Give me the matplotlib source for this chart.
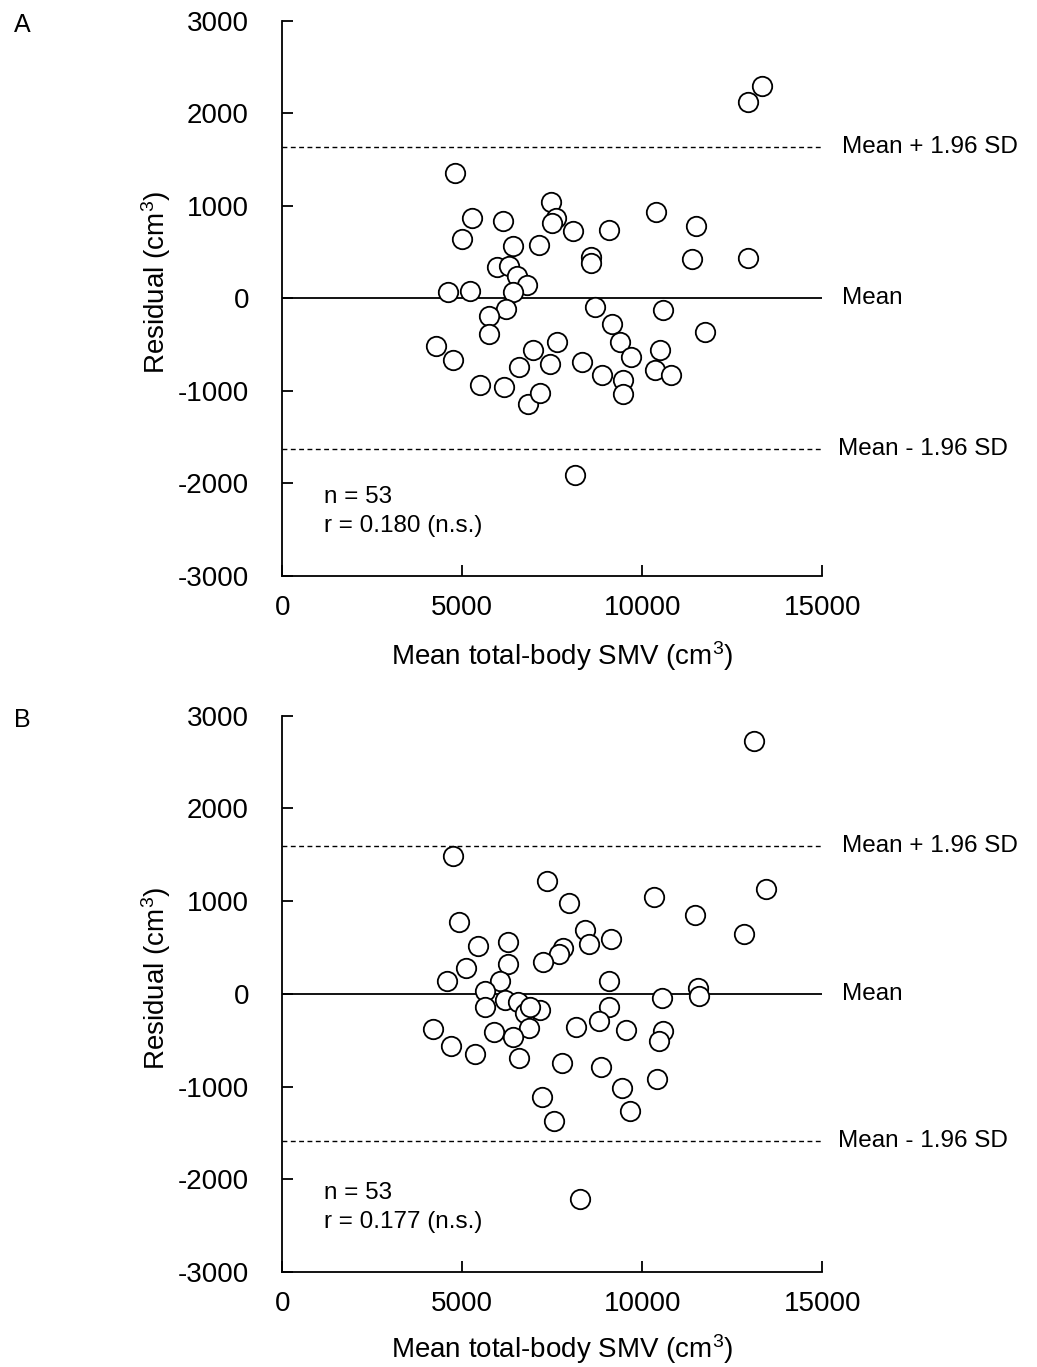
import matplotlib
matplotlib.use("Agg")
import matplotlib.pyplot as plt

plt.rcParams['font.family'] = ['Liberation Sans', 'DejaVu Sans']
plt.rcParams['mathtext.fontset'] = 'custom'
plt.rcParams['mathtext.rm'] = 'Liberation Sans'
plt.rcParams['mathtext.it'] = 'Liberation Sans:italic'
plt.rcParams['mathtext.bf'] = 'Liberation Sans:bold'
plt.rcParams['axes.unicode_minus'] = False

# Panel A data
a_x = [4797, 5278, 6139, 4983, 7464, 7594, 7483, 8083, 9067, 10381, 11483,
       6417, 7139, 8575, 8575, 11372, 12928, 5956, 6306, 6511, 6797, 4611,
       5214, 6400, 6214, 5750, 8694, 10575, 5750, 9167, 11742, 4261, 4750,
       7631, 6964, 9381, 9678, 10483, 6575, 7436, 8325, 8881, 10361, 10806,
       9472, 9472, 5492, 6167, 6817, 7158, 8139, 12936, 13325]
a_y = [1354, 868, 839, 641, 1037, 868, 814, 731, 742, 929, 785,
       562, 580, 447, 382, 425, 436, 339, 346, 245, 148, 69,
       83, 65, -111, -187, -90, -125, -384, -276, -360, -514, -665,
       -471, -557, -471, -637, -557, -748, -716, -684, -827, -781, -832,
       -889, -1040, -935, -957, -1145, -1026, -1911, 2124, 2297]
a_upper = 1636
a_lower = -1634
a_r = "r = 0.180 (n.s.)"

# Panel B data
b_x = [4733, 7361, 7956, 10325, 11456, 12833, 4908, 5444, 6278, 8417, 8511,
       9139, 7789, 7686, 7250, 6258, 5103, 4567, 6047, 9067, 5631, 11556,
       11575, 10547, 6178, 5622, 6556, 6742, 7158, 6861, 6889, 9083, 8797,
       8158, 9547, 10583, 10464, 4178, 4678, 5344, 5889, 6417, 6575, 7769,
       8853, 10408, 9444, 7206, 7539, 9658, 8278, 13106, 13439]
b_y = [1489, 1216, 978, 1039, 852, 650, 777, 514, 564, 690, 539,
       590, 499, 428, 338, 323, 273, 133, 133, 140, 32, 68,
       -29, -50, -65, -140, -83, -208, -173, -370, -137, -144, -298,
       -360, -388, -399, -514, -378, -568, -644, -413, -471, -690, -744,
       -784, -920, -1014, -1111, -1367, -1262, -2208, 2728, 1133]
b_upper = 1590
b_lower = -1592
b_r = "r = 0.177 (n.s.)"

x_ticks = [0, 5000, 10000, 15000]
y_ticks = [-3000, -2000, -1000, 0, 1000, 2000, 3000]
n_text = "n = 53"

fig = plt.figure(figsize=(10.37, 13.67), dpi=100)
axA = fig.add_axes([0.2722, 0.5789, 0.5207, 0.4058])
axB = fig.add_axes([0.2722, 0.0695, 0.5207, 0.4070])


def draw(ax, xs, ys, up, lo, rtxt, xl_y):
    ax.set_xlim(0, 15000)
    ax.set_ylim(-3000, 3000)
    ax.axhline(0, color='black', lw=1.3, zorder=1)
    ax.axhline(up, color='black', lw=1.0, dashes=(3.5, 2.5), zorder=1)
    ax.axhline(lo, color='black', lw=1.0, dashes=(3.5, 2.5), zorder=1)
    ax.plot(xs, ys, 'o', ms=14, mfc='white', mec='black', mew=1.3,
            zorder=3, clip_on=False)
    for s in ['top', 'right']:
        ax.spines[s].set_visible(False)
    for s in ['left', 'bottom']:
        ax.spines[s].set_linewidth(1.3)
    ax.set_xticks(x_ticks)
    ax.set_yticks(y_ticks)
    ax.tick_params(axis='both', direction='in', length=8, width=1.3,
                   labelsize=20)
    ax.tick_params(axis='x', pad=14)
    ax.tick_params(axis='y', pad=24)
    ax.set_xlabel('Mean total-body SMV (cm$^{3}$)', fontsize=20)
    ax.set_ylabel('Residual (cm$^{3}$)', fontsize=20)
    ax.xaxis.set_label_coords(0.518, xl_y)
    ax.yaxis.set_label_coords(-0.2024, 0.528)
    ax.annotate('Mean + 1.96 SD', xy=(15000, up), xytext=(14, 0),
                textcoords='offset points', va='center', ha='left',
                fontsize=17.5, annotation_clip=False)
    ax.annotate('Mean', xy=(15000, 0), xytext=(14, 0),
                textcoords='offset points', va='center', ha='left',
                fontsize=17.5, annotation_clip=False)
    ax.annotate('Mean - 1.96 SD', xy=(15000, lo), xytext=(11.5, 0),
                textcoords='offset points', va='center', ha='left',
                fontsize=17.5, annotation_clip=False)
    ax.text(1150, -2150, n_text, fontsize=17.5, va='center', ha='left')
    ax.text(1150, -2460, rtxt, fontsize=17.5, va='center', ha='left')
    return ax


draw(axA, a_x, a_y, a_upper, a_lower, a_r, -0.1154)
draw(axB, b_x, b_y, b_upper, b_lower, b_r, -0.1085)

fig.text(22 / 1037, 1 - 25 / 1367, 'A', fontsize=18, ha='center', va='center')
fig.text(22 / 1037, 1 - 720 / 1367, 'B', fontsize=18, ha='center', va='center')

fig.savefig('out.png', dpi=100)
